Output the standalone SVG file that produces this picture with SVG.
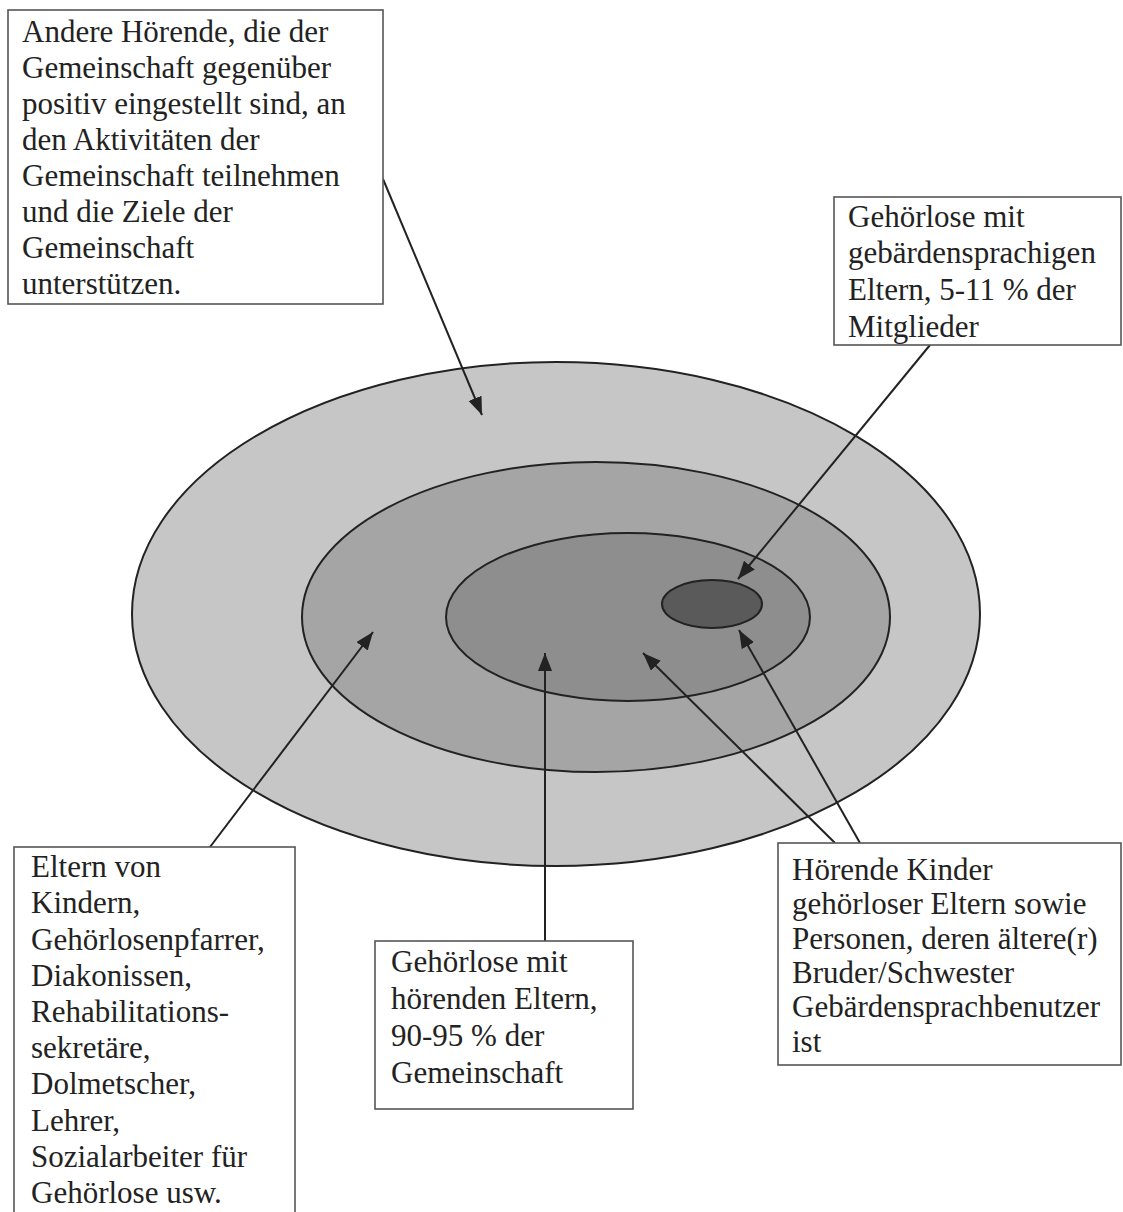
<svg xmlns="http://www.w3.org/2000/svg" width="1123" height="1212" viewBox="0 0 1123 1212">
<style>
.box{fill:#fff;stroke:#555;stroke-width:1.6}
.t{font-family:"Liberation Serif","Times New Roman",serif;font-size:31px;fill:#222}
.ring{stroke:#222;stroke-width:2}
.con{stroke:#222;stroke-width:2;fill:none;marker-end:url(#ah)}
</style>
<defs>
<marker id="ah" markerUnits="userSpaceOnUse" markerWidth="20" markerHeight="16" refX="18" refY="7" orient="auto">
<path d="M0,0 L18,7 L0,14 Z" fill="#222"/>
</marker>
</defs>
<rect width="1123" height="1212" fill="#fff"/>
<g id="rings">
<ellipse id="outer" class="ring" cx="556" cy="614" rx="424" ry="252" fill="#c6c6c6"/>
<ellipse id="middle" class="ring" cx="596" cy="617" rx="294" ry="155" fill="#a5a5a5"/>
<ellipse id="inner" class="ring" cx="628" cy="617" rx="182" ry="84" fill="#8e8e8e"/>
<ellipse id="core" class="ring" cx="712" cy="604" rx="50" ry="24" fill="#5a5a5a"/>
</g>
<g id="connectors">
<line class="con" x1="383" y1="179" x2="482" y2="415"/>
<line class="con" x1="930" y1="345" x2="738" y2="579"/>
<line class="con" x1="210" y1="847" x2="373" y2="632"/>
<line class="con" x1="545" y1="941" x2="545" y2="653"/>
<line class="con" x1="835" y1="843" x2="643" y2="653"/>
<line class="con" x1="860" y1="843" x2="739" y2="630"/>
</g>
<g id="box-andere">
<rect class="box" x="8" y="10" width="375" height="294"/>
<text class="t" x="22" y="42">Andere Hörende, die der</text>
<text class="t" x="22" y="78">Gemeinschaft gegenüber</text>
<text class="t" x="22" y="114">positiv eingestellt sind, an</text>
<text class="t" x="22" y="150">den Aktivitäten der</text>
<text class="t" x="22" y="186">Gemeinschaft teilnehmen</text>
<text class="t" x="22" y="222">und die Ziele der</text>
<text class="t" x="22" y="258">Gemeinschaft</text>
<text class="t" x="22" y="294">unterstützen.</text>
</g>
<g id="box-gebaerden">
<rect class="box" x="834" y="197" width="287" height="148"/>
<text class="t" x="848" y="227">Gehörlose mit</text>
<text class="t" x="848" y="263">gebärdensprachigen</text>
<text class="t" x="848" y="300">Eltern, 5-11 % der</text>
<text class="t" x="848" y="337">Mitglieder</text>
</g>
<g id="box-eltern">
<rect class="box" x="14" y="847" width="281" height="380"/>
<text class="t" x="31" y="877">Eltern von</text>
<text class="t" x="31" y="913">Kindern,</text>
<text class="t" x="31" y="950">Gehörlosenpfarrer,</text>
<text class="t" x="31" y="986">Diakonissen,</text>
<text class="t" x="31" y="1022">Rehabilitations-</text>
<text class="t" x="31" y="1058">sekretäre,</text>
<text class="t" x="31" y="1094">Dolmetscher,</text>
<text class="t" x="31" y="1131">Lehrer,</text>
<text class="t" x="31" y="1167">Sozialarbeiter für</text>
<text class="t" x="31" y="1203">Gehörlose usw.</text>
</g>
<g id="box-hoerende-eltern">
<rect class="box" x="375" y="941" width="258" height="168"/>
<text class="t" x="391" y="972">Gehörlose mit</text>
<text class="t" x="391" y="1009">hörenden Eltern,</text>
<text class="t" x="391" y="1046">90-95 % der</text>
<text class="t" x="391" y="1083">Gemeinschaft</text>
</g>
<g id="box-kinder">
<rect class="box" x="778" y="843" width="343" height="222"/>
<text class="t" x="792" y="880">Hörende Kinder</text>
<text class="t" x="792" y="914">gehörloser Eltern sowie</text>
<text class="t" x="792" y="949">Personen, deren ältere(r)</text>
<text class="t" x="792" y="983">Bruder/Schwester</text>
<text class="t" x="792" y="1017">Gebärdensprachbenutzer</text>
<text class="t" x="792" y="1052">ist</text>
</g>
</svg>
